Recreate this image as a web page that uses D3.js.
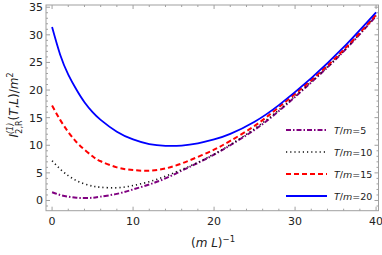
<!DOCTYPE html>
<html>
<head>
<style>
  body{
    margin: 0;
    background: white;
  }
  text{
    font-family: 'DejaVu Sans', sans-serif;
  }
</style>
</head>
<body>
<svg id='svgVis'></svg>

<script src="https://cdn.jsdelivr.net/npm/d3@7/dist/d3.min.js"></script>
<script>

var xGrid = [0, 1, 2, 3, 4, 5, 6, 8, 10, 12, 14, 16, 18, 20, 22, 25, 28, 32, 36, 40];

var tm5  = [1.5, 1.0, 0.7, 0.5, 0.45, 0.5, 0.7, 1.2, 2.0, 2.9, 4.0, 5.4, 6.8, 8.3, 10.0, 12.8, 16.2, 21.4, 27.0, 33.4];
var tm10 = [7.2, 5.7, 4.5, 3.6, 3.0, 2.6, 2.4, 2.3, 2.7, 3.4, 4.4, 5.6, 6.9, 8.4, 10.1, 13.0, 16.4, 21.5, 27.1, 33.5];
var tm15 = [17.2, 14.6, 12.4, 10.6, 9.2, 8.0, 7.1, 6.0, 5.5, 5.4, 5.8, 6.7, 7.9, 9.2, 10.8, 13.5, 16.9, 21.8, 27.3, 33.6];
var tm20 = [31.4, 26.4, 22.8, 20.1, 17.8, 16.0, 14.6, 12.45, 11.05, 10.2, 9.9, 9.95, 10.35, 11.05, 12.05, 14.27, 17.27, 22.15, 27.75, 34.07];

var seriesNames = ['T/m=5', 'T/m=10', 'T/m=15', 'T/m=20'];
var seriesValues = [tm5, tm10, tm15, tm20];

var xTicks = [0, 10, 20, 30, 40];
var yTicks = [0, 5, 10, 15, 20, 25, 30, 35];

var width = 382,
    height = 255;

var svg = d3.select('#svgVis')
    .attr('width', width)
    .attr('height', height);

var x = d3.scaleLinear().domain([-0.75, 40.3]).range([46, 378.5]);
var y = d3.scaleLinear().domain([-1.85, 35.4]).range([210.7, 5]);

var styles = [
  {color: '#800080', dash: '5,2,1.5,2', w: 2},
  {color: '#111', dash: '1.2,3', w: 1.6},
  {color: '#ff0000', dash: '5,3', w: 2},
  {color: '#0000ff', dash: null, w: 1.8}
];

// frame
svg.append('rect')
  .attr('x', x.range()[0]).attr('y', y.range()[1])
  .attr('width', x.range()[1] - x.range()[0])
  .attr('height', y.range()[0] - y.range()[1])
  .attr('fill', 'none')
  .attr('stroke', '#a0a0a0')
  .attr('stroke-width', 1);

// ticks on all sides
var tickG = svg.append('g').attr('stroke', '#a0a0a0').attr('stroke-width', 1);
d3.range(0, 41, 2).forEach(function(v) {
  var len = v % 10 === 0 ? 4 : 2;
  tickG.append('line').attr('x1', x(v)).attr('x2', x(v)).attr('y1', y.range()[0]).attr('y2', y.range()[0] - len);
  tickG.append('line').attr('x1', x(v)).attr('x2', x(v)).attr('y1', y.range()[1]).attr('y2', y.range()[1] + len);
});
d3.range(-1, 36, 1).forEach(function(v) {
  var len = v % 5 === 0 ? 4 : 2;
  tickG.append('line').attr('y1', y(v)).attr('y2', y(v)).attr('x1', x.range()[0]).attr('x2', x.range()[0] + len);
  tickG.append('line').attr('y1', y(v)).attr('y2', y(v)).attr('x1', x.range()[1]).attr('x2', x.range()[1] - len);
});

// tick labels
svg.append('g').selectAll('text')
  .data(xTicks).enter().append('text')
  .attr('x', function(d) { return x(d); })
  .attr('y', y.range()[0] + 14)
  .attr('text-anchor', 'middle')
  .attr('font-size', '11px')
  .attr('fill', '#222')
  .text(function(d) { return d; });

svg.append('g').selectAll('text')
  .data(yTicks).enter().append('text')
  .attr('x', x.range()[0] - 3)
  .attr('y', function(d) { return y(d) + 4; })
  .attr('text-anchor', 'end')
  .attr('font-size', '11px')
  .attr('fill', '#222')
  .text(function(d) { return d; });

// curves
var line = d3.line()
  .x(function(d, i) { return x(xGrid[i]); })
  .y(function(d) { return y(d); })
  .curve(d3.curveNatural);

seriesValues.forEach(function(vals, i) {
  svg.append('path')
    .attr('d', line(vals))
    .attr('fill', 'none')
    .attr('stroke', styles[i].color)
    .attr('stroke-width', styles[i].w)
    .attr('stroke-dasharray', styles[i].dash)
    .attr('stroke-linecap', 'butt');
});

// legend
var legend = svg.append('g');
seriesNames.forEach(function(name, i) {
  var ly = 130 + i * 22;
  legend.append('line')
    .attr('x1', 286).attr('x2', 327)
    .attr('y1', ly).attr('y2', ly)
    .attr('stroke', styles[i].color)
    .attr('stroke-width', styles[i].w)
    .attr('stroke-dasharray', styles[i].dash);
  var t = legend.append('text')
    .attr('x', 334).attr('y', ly + 3.5)
    .attr('font-size', '9.5px')
    .attr('fill', '#222');
  t.append('tspan').attr('font-style', 'italic').text('T');
  t.append('tspan').text('/');
  t.append('tspan').attr('font-style', 'italic').text('m');
  t.append('tspan').text(name.split('m')[1]);
});

// axis labels
var xl = svg.append('text')
  .attr('x', 213).attr('y', 247)
  .attr('text-anchor', 'middle')
  .attr('font-size', '12px')
  .attr('fill', '#222');
xl.append('tspan').text('(');
xl.append('tspan').attr('font-style', 'italic').text('m L');
xl.append('tspan').text(')');
xl.append('tspan').attr('font-size', '8.5px').attr('dy', -5).text('\u22121');

var yl = svg.append('text')
  .attr('transform', 'translate(18,105) rotate(-90)')
  .attr('text-anchor', 'middle')
  .attr('font-size', '12px')
  .attr('fill', '#222');
yl.append('tspan').attr('font-style', 'italic').text('I');
yl.append('tspan').attr('font-size', '8px').attr('dy', -5).attr('font-style', 'italic').text('(1)');
yl.append('tspan').attr('font-size', '8px').attr('dx', -11).attr('dy', 9).text('2,R');
yl.append('tspan').attr('dy', -4).text('(');
yl.append('tspan').attr('font-style', 'italic').text('T');
yl.append('tspan').text(',');
yl.append('tspan').attr('font-style', 'italic').text('L');
yl.append('tspan').text(')/');
yl.append('tspan').attr('font-style', 'italic').text('m');
yl.append('tspan').attr('font-size', '8px').attr('dy', -5).text('2');

</script>
</body>
</html>
